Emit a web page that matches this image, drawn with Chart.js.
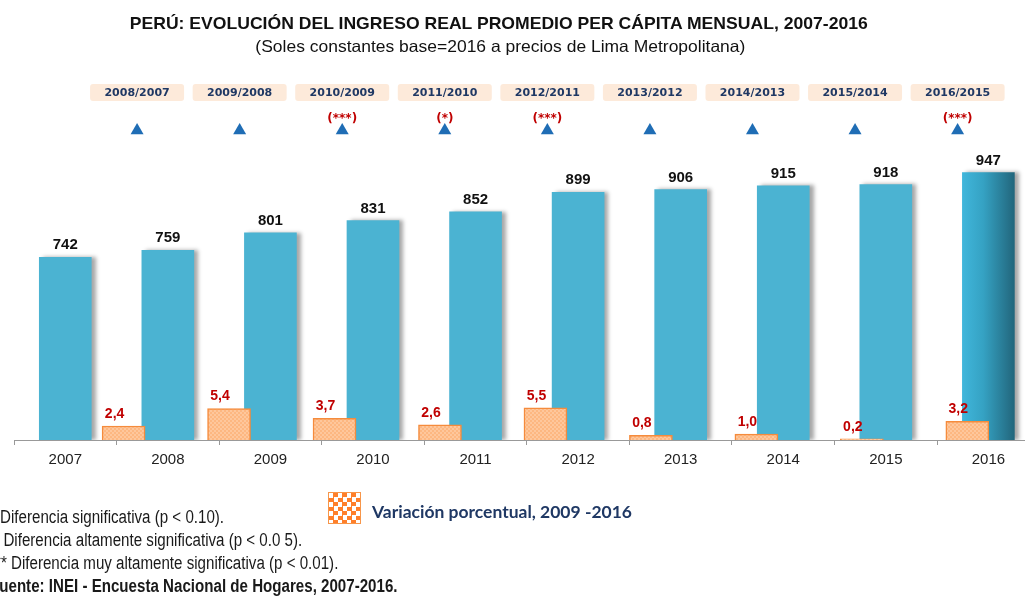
<!DOCTYPE html>
<html lang="es">
<head>
<meta charset="utf-8">
<title>Perú: ingreso real promedio per cápita mensual</title>
<script src="https://cdn.jsdelivr.net/npm/chart.js@4.4.1/dist/chart.umd.min.js"></script>
<style>
  html, body { margin: 0; padding: 0; background: #fff; overflow: hidden; }
  #wrap { position: relative; width: 1025px; height: 601px; overflow: hidden; }
  #grafico { position: absolute; left: 0; top: 0; }
  .arial { font-family: "Liberation Sans", Arial, sans-serif; }
  .linea { position: absolute; left: 0; width: 998px; text-align: center; white-space: nowrap; color: #111; line-height: 20px; }
  .linea span { display: inline-block; transform-origin: 50% 50%; }
  #titulo { top: 13.5px; font-weight: bold; font-size: 17px; }
  #subtitulo { top: 36px; font-size: 16.5px; width: 1000px; }
  #notas { position: absolute; left: -10px; top: 506px; font-size: 18px; line-height: 23px; color: #1a1a1a; white-space: nowrap; transform: scaleX(0.84); transform-origin: 0 0; }
  #notas .n2 { margin-left: -3px; }
  #notas .n3 { margin-left: -1px; }
  #muestra { position: absolute; left: 328px; top: 492px; width: 31px; height: 30px; border: 1px solid #F7964A;
             background: repeating-conic-gradient(#FF7F2A 0 25%, #ffffff 0 50%) 0 0 / 9px 9px; }
  #leyenda { position: absolute; left: 372px; top: 501px; line-height: 22px; white-space: nowrap; transform-origin: 0 50%;
             font-family: Lato, "Open Sans", sans-serif; font-weight: bold; font-size: 17px; color: #1F3864; }
</style>
</head>
<body>
<div id="wrap">
  <canvas id="grafico" width="1025" height="601"></canvas>
  <div id="titulo" class="linea arial"><span>PERÚ: EVOLUCIÓN DEL INGRESO REAL PROMEDIO PER CÁPITA MENSUAL, 2007-2016</span></div>
  <div id="subtitulo" class="linea arial"><span>(Soles constantes base=2016 a precios de Lima Metropolitana)</span></div>
  <div id="muestra"></div>
  <div id="leyenda">Variación porcentual, 2009 -2016</div>
  <div id="notas" class="arial">
    <div>* Diferencia significativa (p &lt; 0.10).</div>
    <div class="n2">** Diferencia altamente significativa (p &lt; 0.0 5).</div>
    <div class="n3">*** Diferencia muy altamente significativa (p &lt; 0.01).</div>
    <div><b>Fuente: INEI - Encuesta Nacional de Hogares, 2007-2016.</b></div>
  </div>
</div>
<script>
const years = [2007, 2008, 2009, 2010, 2011, 2012, 2013, 2014, 2015, 2016];
const ingreso = [742, 759, 801, 831, 852, 899, 906, 915, 918, 947];

const yearsVar = [2008, 2009, 2010, 2011, 2012, 2013, 2014, 2015, 2016];
const variacion = [2.4, 5.4, 3.7, 2.6, 5.5, 0.8, 1.0, 0.2, 3.2];

const periodos = ['2008/2007', '2009/2008', '2010/2009', '2011/2010', '2012/2011', '2013/2012', '2014/2013', '2015/2014', '2016/2015'];
const signif = ['', '', '(***)', '(*)', '(***)', '', '', '', '(***)'];

const AZUL = '#4BB3D2';
const ROJO = '#C00000';
const NAVY = '#1F3864';
const SANS = '"Liberation Sans", Arial, sans-serif';

// los textos del encabezado y la leyenda se ajustan al ancho del original
function ajustarAncho(el, ancho) {
  const w = el.getBoundingClientRect().width;
  if (w > 0) el.style.transform = `scaleX(${ancho / w})`;
}
ajustarAncho(document.querySelector('#titulo span'), 738);
ajustarAncho(document.querySelector('#subtitulo span'), 490);
ajustarAncho(document.getElementById('leyenda'), 260);

const canvas = document.getElementById('grafico');
const ctx = canvas.getContext('2d');

// textura suave para las barras naranjas
function patronNaranja() {
  const c = document.createElement('canvas');
  c.width = 4; c.height = 4;
  const g = c.getContext('2d');
  g.fillStyle = '#FDB781';
  g.fillRect(0, 0, 4, 4);
  g.fillStyle = '#FEC79C';
  g.fillRect(0, 0, 2, 2);
  g.fillRect(2, 2, 2, 2);
  return ctx.createPattern(c, 'repeat');
}

// la ultima barra (2016) lleva degradado
function colorBarra(c) {
  const chart = c.chart;
  if (c.dataIndex !== years.length - 1 || !chart.chartArea) return AZUL;
  const x = chart.scales.x.getPixelForValue(years[c.dataIndex]);
  const g = chart.ctx.createLinearGradient(x - 26, 0, x + 26, 0);
  g.addColorStop(0, '#40B6DB');
  g.addColorStop(0.4, '#35A2C3');
  g.addColorStop(1, '#22667C');
  return g;
}

const sombra = {
  id: 'sombra',
  beforeDatasetDraw(chart, args) {
    if (args.index !== 0) return;
    chart.ctx.save();
    chart.ctx.shadowColor = 'rgba(0,0,0,0.35)';
    chart.ctx.shadowOffsetX = 4;
    chart.ctx.shadowOffsetY = 0;
    chart.ctx.shadowBlur = 4;
  },
  afterDatasetDraw(chart, args) {
    if (args.index !== 0) return;
    chart.ctx.restore();
  },
};

const etiquetas = {
  id: 'etiquetas',
  afterDatasetsDraw(chart) {
    const c = chart.ctx;
    c.save();
    c.textAlign = 'center';
    c.textBaseline = 'alphabetic';

    c.font = 'bold 15px ' + SANS;
    c.fillStyle = '#111';
    chart.getDatasetMeta(0).data.forEach((bar, i) => {
      c.fillText(String(ingreso[i]), bar.x, bar.y - 8);
    });

    c.font = 'bold 14px ' + SANS;
    c.fillStyle = ROJO;
    chart.getDatasetMeta(1).data.forEach((bar, i) => {
      c.fillText(variacion[i].toFixed(1).replace('.', ','), bar.x - 9, bar.y - 8);
    });

    // cabeceras de comparacion y significancia
    chart.getDatasetMeta(2).data.forEach((pt, i) => {
      c.fillStyle = '#FDEADA';
      c.beginPath();
      c.roundRect(pt.x - 47, 84, 94, 17, 3);
      c.fill();
      c.font = 'bold 11px "DejaVu Sans", Verdana, sans-serif';
      c.fillStyle = NAVY;
      c.textBaseline = 'middle';
      c.fillText(periodos[i], pt.x, 93);
      if (signif[i]) {
        c.font = 'bold 12px "DejaVu Sans", Verdana, sans-serif';
        c.fillStyle = ROJO;
        c.fillText(signif[i], pt.x, 119);
      }
      c.textBaseline = 'alphabetic';
    });
    c.restore();
  },
};

new Chart(ctx, {
  type: 'bar',
  data: {
    datasets: [
      {
        type: 'bar',
        label: 'Ingreso real promedio per cápita mensual',
        data: years.map((y, i) => ({ x: y, y: ingreso[i] })),
        xAxisID: 'x',
        yAxisID: 'y',
        backgroundColor: colorBarra,
        borderWidth: 0,
        barThickness: 52,
        grouped: false,
        base: 300,
        order: 2,
      },
      {
        type: 'bar',
        label: 'Variación porcentual, 2009 -2016',
        data: yearsVar.map((y, i) => ({ x: y, y: variacion[i] })),
        xAxisID: 'x2',
        yAxisID: 'y2',
        backgroundColor: patronNaranja(),
        borderColor: '#F58B3C',
        borderWidth: 1.5,
        barThickness: 43,
        grouped: false,
        order: 1,
      },
      {
        type: 'scatter',
        label: 'Comparación',
        data: yearsVar.map((y) => ({ x: y - 0.3, y: 86 })),
        xAxisID: 'x',
        yAxisID: 'ym',
        pointStyle: 'triangle',
        pointRadius: 7.5,
        backgroundColor: '#1F6DB5',
        borderWidth: 0,
        order: 0,
      },
    ],
  },
  options: {
    responsive: false,
    animation: false,
    events: [],
    layout: { autoPadding: false, padding: { left: 14, right: 0, top: 80, bottom: 126 } },
    plugins: { legend: { display: false }, tooltip: { enabled: false }, title: { display: false } },
    scales: {
      x: {
        type: 'linear',
        min: 2006.5,
        max: 2016.357,
        offset: false,
        ticks: {
          stepSize: 1,
          includeBounds: false,
          autoSkip: false,
          maxRotation: 0,
          padding: 6,
          color: '#222',
          font: { family: SANS, size: 15 },
          callback: (v) => (Number.isInteger(v) ? String(v) : ''),
        },
        grid: { offset: true, drawOnChartArea: false, drawTicks: true, tickLength: 5, color: '#999' },
        border: { color: '#999', width: 1 },
      },
      x2: { type: 'linear', display: false, offset: false, min: 2006.961, max: 2016.547 },
      y: { display: false, beginAtZero: false, min: 300, max: 1171 },
      y2: { display: false, min: 0, max: 61.7 },
      ym: { display: false, min: 0, max: 100 },
    },
  },
  plugins: [sombra, etiquetas],
});
</script>
</body>
</html>
